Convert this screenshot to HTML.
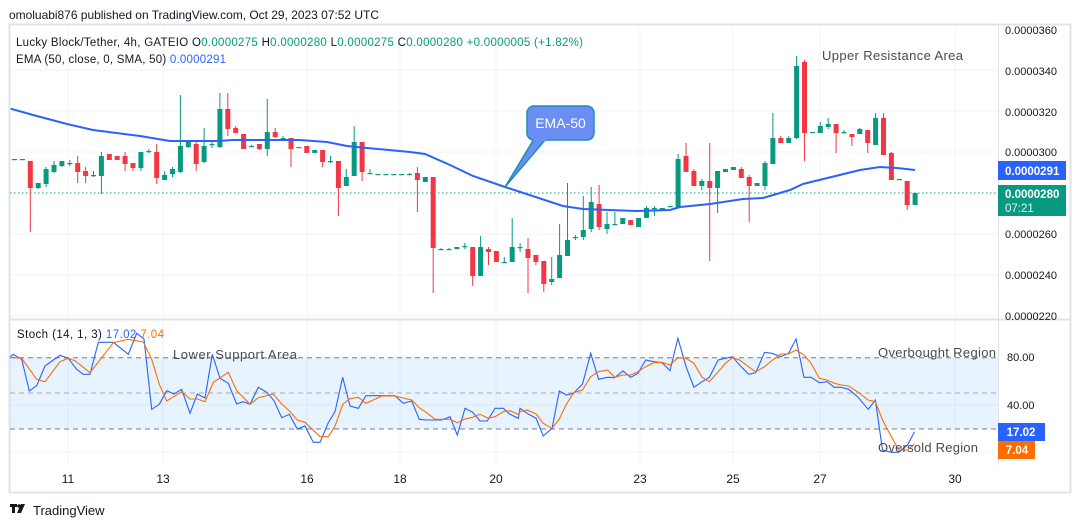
<!DOCTYPE html>
<html><head><meta charset="utf-8">
<style>
html,body{margin:0;padding:0;background:#fff;width:1080px;height:528px;overflow:hidden;font-family:"Liberation Sans",sans-serif;}
svg{position:absolute;left:0;top:0;}
</style></head>
<body>
<svg id="s" width="1080" height="528" xmlns="http://www.w3.org/2000/svg" font-family="Liberation Sans, sans-serif">
<rect x="9.5" y="24.5" width="1061" height="468" fill="#fff" stroke="#e0e3eb" stroke-width="2"/>
<g id="grid" stroke="#f0f3fa" stroke-width="1"></g>
<rect x="10" y="357.7" width="988" height="71.3" fill="#2196f3" fill-opacity="0.11"/>
<line x1="10" x2="998" y1="357.7" y2="357.7" stroke="#787b86" stroke-dasharray="5,4"/>
<line x1="10" x2="998" y1="393" y2="393" stroke="#aaa" stroke-dasharray="5,4"/>
<line x1="10" x2="998" y1="429" y2="429" stroke="#787b86" stroke-dasharray="5,4"/>
<line x1="10" x2="1070" y1="319.5" y2="319.5" stroke="#e0e3eb" stroke-width="2"/>
<line x1="998.5" x2="998.5" y1="24" y2="465" stroke="#e0e3eb"/>
<line x1="10" x2="998" y1="193" y2="193" stroke="#089981" stroke-dasharray="1.5,2.5"/>
<g id="candles"></g>
<polyline id="ema" fill="none" stroke="#2962ff" stroke-width="2"/>
<polyline id="k" fill="none" stroke="#2962ff" stroke-width="1.1"/>
<polyline id="d" fill="none" stroke="#ff6d00" stroke-width="1.1"/>
<path d="M534,139 L505,187 L546,139 Z" fill="#6b8ef5" stroke="#1e8eb0" stroke-width="1.5"/>
<rect x="527" y="106" width="67" height="34" rx="7" fill="#6b8ef5" stroke="#1e8eb0" stroke-width="1.5"/>
<rect x="533" y="137" width="14" height="4" fill="#6b8ef5"/>
<text x="560.5" y="128" text-anchor="middle" font-size="14" fill="#fff">EMA-50</text>
<text x="9" y="19" font-size="12" fill="#131722" textLength="370">omoluabi876 published on TradingView.com, Oct 29, 2023 07:52 UTC</text>
<text x="16" y="46" font-size="11.5" fill="#131722" textLength="567">Lucky Block/Tether, 4h, GATEIO  O<tspan fill="#089981">0.0000275</tspan>  H<tspan fill="#089981">0.0000280</tspan>  L<tspan fill="#089981">0.0000275</tspan>  C<tspan fill="#089981">0.0000280</tspan>  <tspan fill="#089981">+0.0000005 (+1.82%)</tspan></text>
<text x="16" y="63" font-size="11.5" fill="#131722" textLength="210">EMA (50, close, 0, SMA, 50)  <tspan fill="#2962ff">0.0000291</tspan></text>
<text x="17" y="338" font-size="11.5" fill="#131722" textLength="147">Stoch (14, 1, 3)  <tspan fill="#2962ff">17.02</tspan>  <tspan fill="#ff6d00">7.04</tspan></text>
<text x="822" y="60" font-size="13" fill="#4a4a4a" textLength="141">Upper Resistance Area</text>
<text x="173" y="359" font-size="13" fill="#4a4a4a" textLength="124">Lower Support Area</text>
<text x="878" y="357" font-size="13" fill="#4a4a4a" textLength="118">Overbought Region</text>
<text x="878" y="452" font-size="13" fill="#4a4a4a" textLength="100">Oversold Region</text>
<g font-size="11" fill="#131722">
<text x="1005" y="34">0.0000360</text>
<text x="1005" y="75">0.0000340</text>
<text x="1005" y="116">0.0000320</text>
<text x="1005" y="156">0.0000300</text>
<text x="1005" y="238">0.0000260</text>
<text x="1005" y="279">0.0000240</text>
<text x="1005" y="320">0.0000220</text>
<text x="1007" y="361">80.00</text>
<text x="1007" y="409">40.00</text>
</g>
<rect x="998" y="161" width="68" height="19" fill="#2962ff"/>
<text x="1005" y="175" font-size="11.5" font-weight="bold" fill="#fff">0.0000291</text>
<rect x="998" y="185" width="68" height="31" fill="#089981"/>
<text x="1005" y="198" font-size="11.5" font-weight="bold" fill="#fff">0.0000280</text>
<text x="1005" y="212" font-size="11.5" fill="#e8f5f2">07:21</text>
<rect x="998" y="423" width="47" height="18" fill="#2962ff"/>
<text x="1021" y="436" text-anchor="middle" font-size="11.5" font-weight="bold" fill="#fff">17.02</text>
<rect x="998" y="441" width="37" height="18" fill="#ff6d00"/>
<text x="1017" y="454" text-anchor="middle" font-size="11.5" font-weight="bold" fill="#fff">7.04</text>
<g font-size="12" fill="#131722" text-anchor="middle">
<text x="68" y="483">11</text><text x="163" y="483">13</text><text x="307" y="483">16</text>
<text x="400" y="483">18</text><text x="496" y="483">20</text><text x="640" y="483">23</text>
<text x="733" y="483">25</text><text x="820" y="483">27</text><text x="955" y="483">30</text>
</g>
<g fill="#131722"><rect x="10" y="504" width="7" height="3"/><rect x="12" y="504" width="3" height="9"/><circle cx="19" cy="506" r="1.8"/><path d="M21,504 L25,504 L21,513 L17,513 Z"/></g>
<text x="33" y="515" font-size="13" fill="#131722">TradingView</text>
</svg>
<script>
var NS="http://www.w3.org/2000/svg";
function el(p,t,a){var e=document.createElementNS(NS,t);for(var k in a)e.setAttribute(k,a[k]);p.appendChild(e);return e;}
var g=document.getElementById('grid');
[68,163,307,400,496,640,733,820,955].forEach(function(x){el(g,'line',{x1:x,x2:x,y1:25,y2:465});});
[70,111,152,234,275,316].forEach(function(y){el(g,'line',{x1:10,x2:998,y1:y,y2:y});});
[405,452].forEach(function(y){el(g,'line',{x1:10,x2:998,y1:y,y2:y});});
var C=[[159,159],[159,159],[161,188,161,232],[188,183,183,189],[184,169,167,187],[172,165,161,173],[166,161,161,167],[163,163,160,166],[163,172,156,183],[171,176,167,183],[175,175,171,177],[176,156,152,194],[154,160],[156,160],[156,164,152,171],[163,168,163,171],[168,152,152,171],[151,151,149,153],[152,178,144,184],[180,175,171,180],[174,169,167,177],[172,146,95,173],[147,142,140,148],[144,164,140,171],[162,146,128,163],[144,144,142,148],[147,109,93,148],[109,129,93,136],[128,133,126,133],[134,149],[146,146,145,147],[144,149,144,150],[149,132,99,156],[132,137,128,138],[138,138,136,139],[138,149,138,167],[147,147],[146,153],[153,150],[150,162,150,167],[161,161,156,163],[161,188,161,216],[186,177,169,186],[176,142,126,176],[142,172,142,181],[173,173,169,174],[174,174],[174,174],[174,174],[174,174],[174,174,173,175],[173,180,167,212],[182,177],[177,248,177,293],[249,249,248,250],[249,249,248,250],[249,247],[246,246,243,249],[247,276,247,286],[276,247,236,276],[249,252,247,265],[251,262],[262,262,257,263],[262,247,218,262],[247,247,243,252],[249,258,238,293],[255,262,255,265],[261,284,261,292],[282,279,257,285],[278,255,224,278],[256,240,183,256],[237,237,235,240],[237,230,196,240],[229,202,187,232],[204,227,185,230],[229,224,212,234],[224,224,212,225],[224,218],[220,225],[227,218],[218,208,206,218],[208,208,206,216],[211,208],[206,206],[207,159,154,207],[156,172,143,172],[171,186,169,186],[186,181,179,190],[181,188,143,261],[188,171,171,213],[172,169],[170,167],[169,178,167,178],[177,186,175,222],[186,183],[186,163,161,190],[164,138,113,164],[138,143,136,143],[143,138,136,143],[138,66,56,139],[62,133,60,161],[132,132],[133,126,122,133],[127,124,118,129],[124,133,124,153],[132,132,130,134],[134,137,134,146],[134,129,128,134],[130,143,130,153],[145,118,113,145],[118,155,113,155],[153,180,152,180],[179,179],[181,205,181,210],[205,193,193,205]];
var cg=document.getElementById('candles');
C.forEach(function(c,i){
 var x=14.5+7.9*i,o=c[0],cl=c[1],h=c[2]!==undefined?c[2]:Math.min(o,cl),l=c[3]!==undefined?c[3]:Math.max(o,cl);
 var col=cl>o?'#f23645':'#089981';
 el(cg,'line',{x1:x,x2:x,y1:h,y2:l,stroke:col,'stroke-width':1});
 var t=Math.min(o,cl),b=Math.max(o,cl);
 el(cg,'rect',{x:x-2.5,y:t,width:5,height:Math.max(b-t,1.2),fill:col});
});
document.getElementById('ema').setAttribute('points',"10.7,108.7 33,115 67,124 93,130 140,136 170,141 217,141 233,140 300,140 327,142 347,146 367,148 410,152 425,154 450,165 473,176 505,187 563,206 583,209 637,211 670,210 680,207 710,204 743,199 763,198 790,190 803,184 860,170 880,167 897,168 915,170");
function pts(a,ox,sx){var r=[];for(var i=0;i<a.length;i+=2)r.push((ox+a[i]/sx).toFixed(1)+","+(320+a[i+1]/3).toFixed(1));return r;}
var kA=[30,110,40,103,65,118,88,213,110,197,135,138,180,106,205,115,230,148,250,163,270,163,295,67,340,67,385,103,410,40,432,57,455,268,478,253,500,212,522,222,545,208,570,280,592,222,615,234,637,103,660,175,685,190,710,252,730,245,750,253,775,202,800,217,822,242,845,293,868,283,892,327,915,318,940,367,960,367,985,308,1005,275,1028,172,1050,258,1075,265,1098,227,1120,227,1145,227,1185,227,1210,250,1235,243,1258,298,1280,300,1325,300,1350,290,1372,345,1395,265,1418,277,1440,303,1462,303,1485,265,1510,265,1530,283,1555,295];
var kB=[0,265,20,280,45,295,65,348,90,325,110,213,130,225,150,220,175,192,198,100,220,178,245,172,265,173,288,153,310,172,330,160,352,120,375,125,398,128,420,152,442,55,465,140,487,202,510,185,530,172,555,120,575,115,595,110,615,135,640,163,660,158,685,97,705,100,730,110,752,100,773,57,795,172,815,172,838,188,860,185,880,202,900,202,920,208,945,230,975,268,995,240,1015,390,1040,397,1060,397,1085,375,1105,335];
var dA=[30,112,65,115,110,178,135,185,180,125,205,115,225,122,270,158,340,68,385,58,430,66,455,118,478,193,500,243,545,215,570,237,592,237,615,245,640,187,685,157,710,212,750,253,775,233,820,222,845,252,868,272,892,300,915,307,960,350,985,350,1005,318,1028,253,1050,236,1075,232,1098,250,1145,228,1185,228,1235,240,1258,263,1280,278,1305,298,1350,298,1372,308,1395,297,1418,292,1440,283,1465,295,1485,290,1510,275,1530,272,1555,283];
var dB=[0,275,20,270,45,282,65,310,90,325,110,297,130,253,150,218,175,210,198,170,220,155,245,150,265,172,288,165,310,165,330,155,352,140,375,128,398,127,420,135,442,113,465,115,487,130,510,172,530,185,555,155,575,130,595,113,615,120,640,140,660,155,685,140,705,122,730,102,752,102,773,90,795,105,815,130,838,175,860,180,880,190,900,195,920,198,945,215,975,240,995,245,1015,300,1040,350,1060,390,1085,390,1105,372];
document.getElementById('k').setAttribute('points',pts(kA,0,3).concat(pts(kB,520,2.8)).join(' '));
document.getElementById('d').setAttribute('points',pts(dA,0,3).concat(pts(dB,520,2.8)).join(' '));
</script>
</body></html>
